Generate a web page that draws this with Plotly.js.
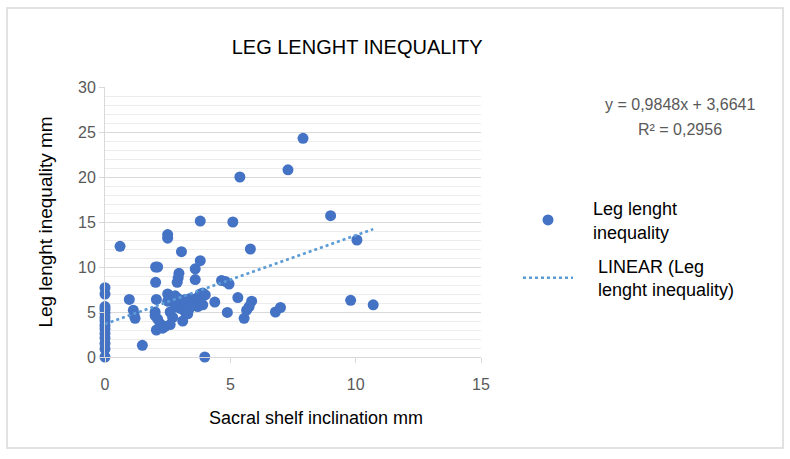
<!DOCTYPE html>
<html>
<head>
<meta charset="utf-8">
<script src="https://cdn.plot.ly/plotly-3.0.1.min.js"></script>
<style>html,body{margin:0;padding:0;background:#fff;}#chart{width:790px;height:459px;}</style>
</head>
<body>
<div id="chart"></div>
<script>
// Sacral shelf inclination (mm)
const sacralX = [
  0,0,0,0,0,0,0,0,0,0,0,0,0,0,
  0.6,0.97,1.13,1.16,1.2,1.49,
  2.02,2.1,2.02,2.05,2.0,2.0,2.1,2.2,2.05,2.3,2.4,2.6,
  2.5,2.5,2.95,2.92,2.88,3.05,3.6,3.6,3.8,3.8,5.1,
  2.5,2.6,2.7,2.5,2.8,2.9,3.0,3.1,3.0,3.2,3.3,3.35,3.1,2.7,3.4,3.2,3.6,3.7,3.8,3.9,4.0,3.7,3.9,3.4,2.8,2.6,
  3.98,4.38,4.65,4.8,4.95,4.88,5.3,5.38,5.8,5.85,5.75,5.65,5.55,
  6.8,7.0,7.3,7.9,9.0,9.8,10.05,10.7
];
// Leg length inequality (mm)
const legY = [
  0,0.9,1.5,2.1,2.6,3.1,3.5,4.0,4.4,4.9,5.3,5.6,7.0,7.7,
  12.3,6.4,5.2,4.7,4.3,1.3,
  10.0,10.0,8.3,6.4,5.0,4.6,4.2,3.7,3.0,3.2,3.4,3.6,
  13.6,13.2,9.3,8.8,8.3,11.7,9.8,8.6,10.7,15.1,15.0,
  7.0,6.6,6.3,6.2,6.8,6.5,6.2,5.8,5.4,5.0,4.8,5.3,4.0,4.4,6.5,6.4,6.0,6.6,7.0,7.1,6.9,5.6,5.8,5.6,5.6,5.0,
  0.0,6.1,8.5,8.4,8.1,4.95,6.6,20.0,12.0,6.2,5.6,5.2,4.3,
  5.0,5.5,20.8,24.3,15.7,6.3,13.0,5.8
];
// Linear trend as printed on the chart
const trendSlope = 0.9848;
const trendIntercept = 3.6641;
const trendX = [Math.min(...sacralX), Math.max(...sacralX)];
const trendY = trendX.map(v => trendSlope * v + trendIntercept);

const xTicks = [0, 5, 10, 15];
const yTicks = [0, 5, 10, 15, 20, 25, 30];

const FONT = 'Liberation Sans, Arial, sans-serif';

const traces = [
  {
    type: 'scatter', mode: 'markers', x: sacralX, y: legY,
    name: '&nbsp;&nbsp;&nbsp;Leg lenght<br>&nbsp;&nbsp;&nbsp;inequality',
    legendgroup: 'a',
    marker: {color: '#4472c4', size: 11},
    cliponaxis: false
  },
  {
    type: 'scatter', mode: 'lines', x: trendX, y: trendY,
    name: '&nbsp;&nbsp;&nbsp;&nbsp;LINEAR (Leg<br>&nbsp;&nbsp;&nbsp;&nbsp;lenght inequality)',
    legendgroup: 'b',
    line: {color: '#5b9bd5', width: 2.5, dash: 'dot'}
  }
];

const L = 105, R = 481, T = 87, B = 357;
const W = R - L, H = B - T;
const px = v => (v - L) / W;
const py = v => (B - v) / H;

const layout = {
  width: 790, height: 459,
  margin: {l: L, r: 790 - R, t: T, b: 459 - B},
  paper_bgcolor: '#fff', plot_bgcolor: '#fff',
  font: {family: FONT, color: '#595959'},
  title: {text: 'LEG LENGHT INEQUALITY', font: {family: FONT, size: 20, color: '#000'},
          x: 0.452, xanchor: 'center', y: 0.897, yanchor: 'middle'},
  xaxis: {
    range: [0, 15], tickvals: xTicks, ticktext: xTicks.map(String),
    showgrid: false, zeroline: false, showline: true, linecolor: '#d9d9d9', linewidth: 1,
    ticks: 'outside', ticklen: 5, tickcolor: '#d9d9d9', ticklabelstandoff: 8,
    tickfont: {size: 16, color: '#595959'}
  },
  yaxis: {
    range: [0, 30], tickvals: yTicks, ticktext: yTicks.map(String),
    showgrid: true, gridcolor: '#d9d9d9', gridwidth: 1,
    zeroline: false, showline: true, linecolor: '#d9d9d9', linewidth: 1,
    ticks: 'outside', ticklen: 5, tickcolor: '#d9d9d9',
    tickfont: {size: 16, color: '#595959'},
    minor: {dtick: 1, tick0: 0, showgrid: true, gridcolor: '#ececec', gridwidth: 1, ticks: ''},
    title: {text: 'Leg lenght inequality mm', font: {size: 19, color: '#000'}, standoff: 20}
  },
  legend: {
    x: px(518), y: py(190), xanchor: 'left', yanchor: 'top',
    font: {size: 18, color: '#000', family: FONT},
    itemwidth: 50, tracegroupgap: 8, bgcolor: 'rgba(0,0,0,0)'
  },
  showlegend: true,
  annotations: [
    {xref: 'paper', yref: 'paper', x: px(316), y: py(418), text: 'Sacral shelf inclination mm',
     showarrow: false, xanchor: 'center', yanchor: 'middle', font: {size: 18, color: '#000'}},
    {xref: 'paper', yref: 'paper', x: px(680), y: py(104), text: 'y = 0,9848x + 3,6641',
     showarrow: false, xanchor: 'center', yanchor: 'middle', font: {size: 16, color: '#595959'}},
    {xref: 'paper', yref: 'paper', x: px(680), y: py(129), text: 'R² = 0,2956',
     showarrow: false, xanchor: 'center', yanchor: 'middle', font: {size: 16, color: '#595959'}}
  ],
  shapes: [
    {type: 'rect', xref: 'paper', yref: 'paper', x0: px(7), x1: px(783), y0: py(448), y1: py(8),
     line: {color: '#d9d9d9', width: 1.5}, fillcolor: 'rgba(0,0,0,0)', layer: 'below'}
  ]
};

Plotly.newPlot('chart', traces, layout, {displayModeBar: false, staticPlot: true});
</script>
</body>
</html>
